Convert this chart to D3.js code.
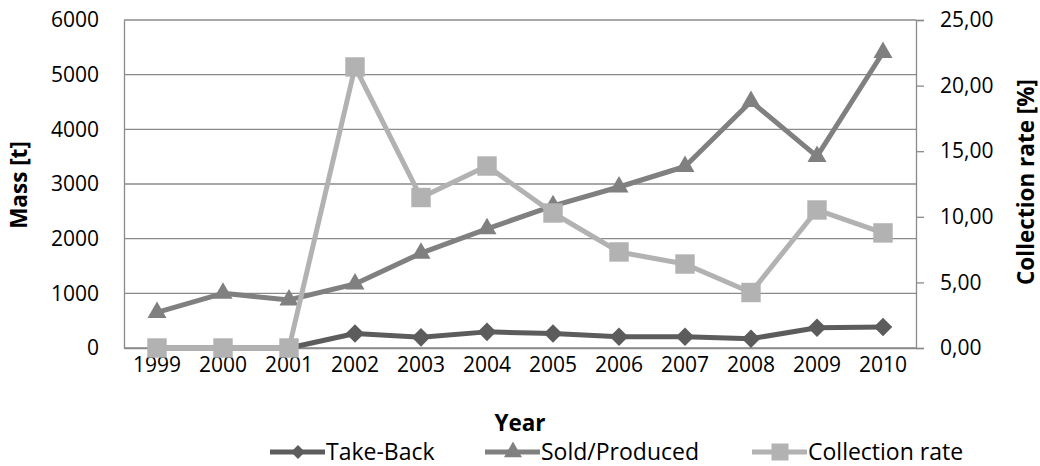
<!DOCTYPE html>
<html>
<head>
<meta charset="utf-8">
<script src="https://cdn.jsdelivr.net/npm/d3@7"></script>
<style>
  body { margin: 0; background: #fff; }
  svg text { font-family: "Open Sans", sans-serif; fill: #000; }
</style>
</head>
<body>
<svg id="chart" width="1040" height="466"></svg>
<script>
// data
var years = ["1999", "2000", "2001", "2002", "2003", "2004", "2005", "2006", "2007", "2008", "2009", "2010"];
var takeBack = [0, 0, 0, 265, 195, 295, 265, 205, 205, 170, 370, 385];
var soldProduced = [650, 1000, 880, 1170, 1735, 2180, 2600, 2945, 3320, 4510, 3505, 5405];
var collectionRate = [0, 0, 0, 21.42, 11.47, 13.87, 10.29, 7.32, 6.40, 4.23, 10.52, 8.77];
var massTicks = [0, 1000, 2000, 3000, 4000, 5000, 6000];
var rateTicks = [0, 5, 10, 15, 20, 25];

var svg = d3.select("#chart");
var plotL = 124, plotR = 916, plotT = 20, plotB = 348;
var fs = "21px", fsTitle = "22.5px", fsLegend = "23px";

var x = d3.scaleBand().domain(years).range([plotL, plotR]);
var yMass = d3.scaleLinear().domain([0, 6000]).range([plotB, plotT]);
var yRate = d3.scaleLinear().domain([0, 25]).range([plotB, plotT]);
var cx = function(d, i) { return x(years[i]) + x.bandwidth() / 2; };

// gridlines
svg.append("g").selectAll("line").data(massTicks).join("line")
    .attr("x1", plotL).attr("x2", plotR)
    .attr("y1", function(d) { return yMass(d); }).attr("y2", function(d) { return yMass(d); })
    .attr("stroke", "#8a8a8a").attr("stroke-width", 1.3);

// left axis (no ticks, just line + labels)
var leftAxis = svg.append("g").attr("transform", "translate(" + plotL + ",0)")
    .call(d3.axisLeft(yMass).tickValues(massTicks).tickSize(0).tickPadding(25).tickFormat(d3.format("d")));
leftAxis.select(".domain").attr("stroke", "#8a8a8a").attr("stroke-width", 1.3);
leftAxis.selectAll("text").style("font-size", fs);

// right axis
var rightAxis = svg.append("g").attr("transform", "translate(" + plotR + ",0)")
    .call(d3.axisRight(yRate).tickValues(rateTicks).tickSize(8).tickPadding(16)
        .tickFormat(function(d) { return d3.format(".2f")(d).replace(".", ","); }));
rightAxis.select(".domain").attr("stroke", "#8a8a8a").attr("stroke-width", 1.3);
rightAxis.selectAll(".tick line").attr("stroke", "#8a8a8a").attr("stroke-width", 1.3);
rightAxis.selectAll("text").style("font-size", fs);

// bottom axis
var bottomAxis = svg.append("g").attr("transform", "translate(0," + plotB + ")")
    .call(d3.axisBottom(x).tickSize(0).tickPadding(9));
bottomAxis.select(".domain").attr("stroke", "#8a8a8a").attr("stroke-width", 1.3);
bottomAxis.selectAll("text").style("font-size", fs);

// axis titles
svg.append("text").attr("transform", "translate(27,185) rotate(-90)")
    .attr("text-anchor", "middle").style("font-size", fsTitle).style("font-weight", "bold").text("Mass [t]");
svg.append("text").attr("transform", "translate(1034,182) rotate(-90)")
    .attr("text-anchor", "middle").style("font-size", fsTitle).style("font-weight", "bold").text("Collection rate [%]");
svg.append("text").attr("x", 520).attr("y", 431)
    .attr("text-anchor", "middle").style("font-size", fsTitle).style("font-weight", "bold").text("Year");

var series = [
    {name: "Take-Back", values: takeBack, y: yMass, color: "#5c5c5c", symbol: d3.symbolDiamond2, size: 220, lsize: 125},
    {name: "Sold/Produced", values: soldProduced, y: yMass, color: "#808080", symbol: d3.symbolTriangle2, size: 260, lsize: 232},
    {name: "Collection rate", values: collectionRate, y: yRate, color: "#b2b2b2", symbol: d3.symbolSquare2, size: 480, lsize: 368}
];

series.forEach(function(s) {
    var line = d3.line().x(cx).y(function(d) { return s.y(d); });
    svg.append("path").datum(s.values).attr("d", line)
        .attr("fill", "none").attr("stroke", s.color).attr("stroke-width", 5).attr("stroke-linejoin", "round");
    svg.append("g").selectAll("path").data(s.values).join("path")
        .attr("transform", function(d, i) { return "translate(" + cx(d, i) + "," + s.y(d) + ")"; })
        .attr("d", d3.symbol().type(s.symbol).size(s.size))
        .attr("fill", s.color);
});

// legend
var legendX = [270, 485, 752];
var legend = svg.append("g").selectAll("g").data(series).join("g")
    .attr("transform", function(d, i) { return "translate(" + legendX[i] + ",452)"; });
legend.append("line").attr("x1", 0).attr("x2", 55)
    .attr("stroke", function(d) { return d.color; }).attr("stroke-width", 5);
legend.append("path").attr("transform", "translate(28,0)")
    .attr("d", function(d) { return d3.symbol().type(d.symbol).size(d.lsize)(); })
    .attr("fill", function(d) { return d.color; });
legend.append("text").attr("x", 56).attr("dy", "0.35em").style("font-size", fsLegend)
    .text(function(d) { return d.name; });
</script>
</body>
</html>
